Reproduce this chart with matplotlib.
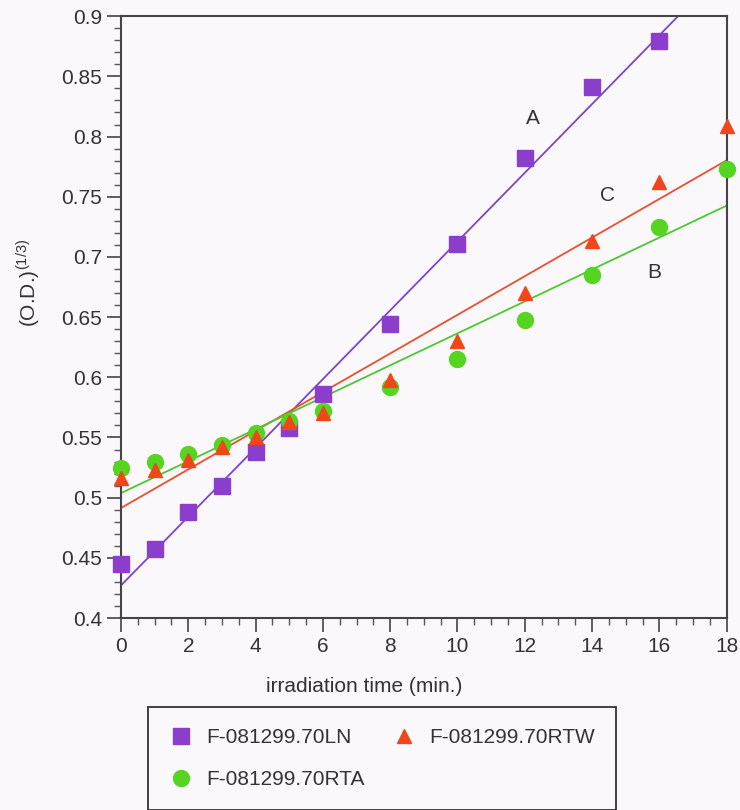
import numpy as np
import matplotlib
matplotlib.use("Agg")
import matplotlib.pyplot as plt
from matplotlib.ticker import MultipleLocator

plt.rcParams['font.family'] = ['Liberation Sans', 'DejaVu Sans']
plt.rcParams['mathtext.fontset'] = 'custom'
plt.rcParams['mathtext.rm'] = 'Liberation Sans'

# irradiation time (min.)
time_ln = [0, 1, 2, 3, 4, 5, 6, 8, 10, 12, 14, 16]
time_rt = [0, 1, 2, 3, 4, 5, 6, 8, 10, 12, 14, 16, 18]

# (O.D.)^(1/3)
od_ln = [0.445, 0.457, 0.488, 0.510, 0.538, 0.558, 0.586, 0.644, 0.711, 0.782, 0.841, 0.879]
od_rtw = [0.516, 0.523, 0.531, 0.542, 0.550, 0.563, 0.570, 0.598, 0.630, 0.670, 0.713, 0.762, 0.809]
od_rta = [0.525, 0.530, 0.536, 0.544, 0.554, 0.564, 0.572, 0.592, 0.615, 0.648, 0.685, 0.725, 0.773]

labels = ['F-081299.70LN', 'F-081299.70RTW', 'F-081299.70RTA']
curve_names = ['A', 'C', 'B']
curve_pos = [(12.25, 0.815), (14.45, 0.751), (15.85, 0.687)]

c_ln, c_rtw, c_rta = '#8a3ecb', '#f0461a', '#55d422'
l_ln, l_rtw, l_rta = '#7a45c8', '#e8502e', '#4cc830'
bg = '#fbf8fb'

fig = plt.figure(figsize=(7.4, 8.1), dpi=100, facecolor=bg)
ax = fig.add_axes([0.1635, 0.237, 0.8185, 0.743])
ax.set_facecolor(bg)

# least squares lines through each series
xfit = np.array([0, 18])
for t, v, lc in [(time_ln, od_ln, l_ln), (time_rt, od_rtw, l_rtw), (time_rt, od_rta, l_rta)]:
    k, b = np.polyfit(t, v, 1)
    ax.plot(xfit, k * xfit + b, color=lc, lw=1.3, zorder=2)

ax.plot(time_ln, od_ln, 's', color=c_ln, ms=11, label=labels[0], zorder=3, clip_on=False)
ax.plot(time_rt, od_rta, 'o', color=c_rta, ms=11.5, label=labels[2], zorder=4, clip_on=False)
ax.plot(time_rt, od_rtw, '^', color=c_rtw, ms=10.5, label=labels[1], zorder=5, clip_on=False)

for name, (x, y) in zip(curve_names, curve_pos):
    ax.text(x, y, name, fontsize=15, color='#333333', ha='center', va='center')

ax.set_xlim(0, 18)
ax.set_ylim(0.4, 0.9)
ax.xaxis.set_major_locator(MultipleLocator(2))
ax.xaxis.set_minor_locator(MultipleLocator(0.5))
ax.yaxis.set_minor_locator(MultipleLocator(0.01))
ax.set_yticks(np.arange(0.4, 0.901, 0.05))
ax.set_yticklabels(['0.4', '0.45', '0.5', '0.55', '0.6', '0.65', '0.7', '0.75', '0.8', '0.85', '0.9'])

ax.tick_params(which='major', direction='out', length=10, width=1.1, labelsize=15,
               colors='#333333', labelcolor='#333333')
ax.tick_params(which='minor', direction='out', length=5, width=1, colors='#555555')
for s in ax.spines.values():
    s.set_linewidth(1.5)
    s.set_color('#444444')

ax.set_xlabel('irradiation time (min.)', fontsize=15, color='#333333')
ax.xaxis.set_label_coords(0.401, -0.098)
ax.set_ylabel(r'(O.D.)$^{\mathregular{(1/3)}}$', fontsize=15, color='#333333')
ax.yaxis.set_label_coords(-0.13, 0.556)

h, l = ax.get_legend_handles_labels()
leg = fig.legend(h, l, ncol=2, loc='upper left',
                 bbox_to_anchor=(0.2, 0.127), borderaxespad=0, fontsize=15,
                 frameon=True, fancybox=False, edgecolor='#333333', facecolor=bg,
                 framealpha=1, borderpad=1.0, handletextpad=0.6, columnspacing=1.3,
                 labelspacing=1.1, handlelength=1.2)
leg.get_frame().set_linewidth(1.3)
for t in leg.get_texts():
    t.set_color('#333333')

fig.savefig('out.png', dpi=100, facecolor=bg)
